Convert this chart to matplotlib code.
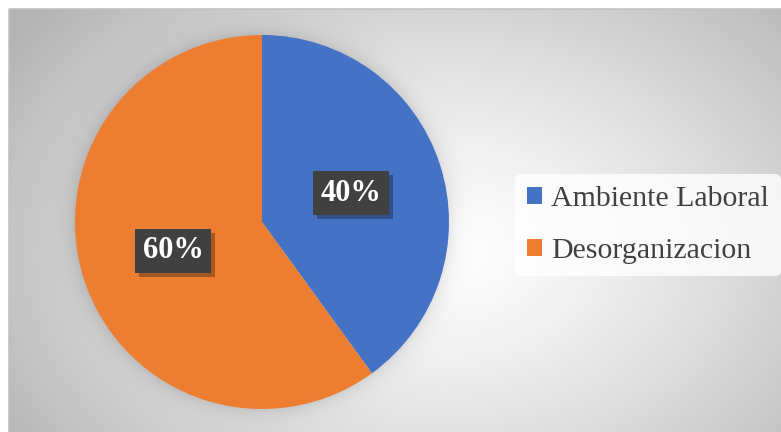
import numpy as np
import matplotlib.pyplot as plt
from matplotlib.patches import Rectangle
from matplotlib import patheffects

categorias = ["Ambiente Laboral", "Desorganizacion"]
porcentajes = [40, 60]
colores = ["#4472C4", "#ED7D31"]

W, H = 781, 432
fig = plt.figure(figsize=(W / 100, H / 100), dpi=100)
fig.patch.set_facecolor("white")

# Fondo del área del gráfico: degradado radial gris-blanco
cx, cy, r = 262, 222, 187
x0, y0 = 9, 9
bg = fig.add_axes([0, 0, 1, 1])
xx, yy = np.meshgrid(np.arange(x0, W) + 0.5, np.arange(y0, H) + 0.5)
d = np.hypot((xx - 440) / 430, (yy - 250) / 310)
val = 1 - 0.23 * np.clip(d, 0, 1.2) ** 1.3
# sombra suave alrededor del pastel
dist = np.hypot(xx - cx, yy - cy) - r
val = val - 0.09 * np.exp(-np.clip(dist, 0, None) / 9)
img = np.dstack([np.clip(val, 0, 1)] * 3)
bg.imshow(img, extent=(x0, W, H, y0), interpolation="bilinear")
bg.add_patch(Rectangle((x0, y0), W, H, fill=False, edgecolor="#c2c2c2", lw=1.2))
bg.set_aspect("auto")
bg.set_xlim(0, W)
bg.set_ylim(H, 0)
bg.axis("off")

# Pastel
ax = fig.add_axes([(cx - r) / W, (H - cy - r) / H, 2 * r / W, 2 * r / H])
wedges, _, autotexts = ax.pie(
    porcentajes, colors=colores, startangle=90, counterclock=False,
    autopct="%d%%", pctdistance=0.5, radius=1,
    textprops=dict(color="white", fontsize=22, fontweight="bold",
                   family="Liberation Serif"))
ax.set_xlim(-1, 1)
ax.set_ylim(-1, 1)

for t in autotexts:
    t.set_bbox(dict(boxstyle="square,pad=0.25", fc="#404040", ec="none"))
    t.set_zorder(5)
    t.get_bbox_patch().set_path_effects([
        patheffects.SimplePatchShadow(offset=(3, -3), shadow_rgbFace="black", alpha=0.3),
        patheffects.Normal()])

leg = fig.legend(wedges, categorias, loc="center left",
                 bbox_to_anchor=(515 / W, 1 - 225 / H), borderaxespad=0,
                 prop=dict(family="Liberation Serif", size=21.5), labelcolor="#404040",
                 frameon=True, handlelength=0.5, handleheight=0.5,
                 handletextpad=0.3, labelspacing=0.85, borderpad=0.4)
leg.get_frame().set_facecolor((1, 1, 1, 0.12))
leg.get_frame().set_edgecolor("none")

fig.savefig("out.png", dpi=100)
